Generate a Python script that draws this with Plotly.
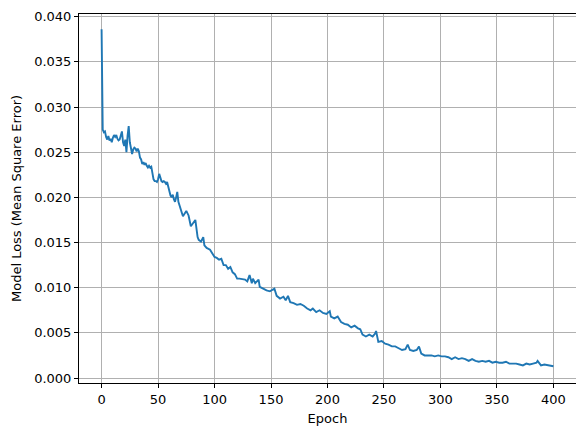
import plotly.graph_objects as go

# Valores (época, pérdida MSE)
epochs = [0, 1, 2, 3, 4, 5, 6, 7, 8, 9, 10, 11, 12, 13, 14, 15, 16, 17, 18, 19,
          20, 21, 22, 23, 24, 25, 26, 27, 28, 29, 30, 31, 32, 33, 34, 35, 36, 37, 38, 39,
          40, 41, 42, 43, 44, 45, 46, 47, 48, 49, 50, 51, 52, 53, 54, 55, 56, 57, 58, 59,
          60, 61, 62, 63, 64, 65, 66, 67, 68, 69, 70, 72, 75, 77, 79, 81, 83, 85, 86, 88,
          90, 91, 93, 96, 98, 100, 102, 104, 106, 108, 110, 112, 114, 116, 118, 120, 122, 125, 127, 129,
          130, 131, 133, 134, 136, 139, 140, 143, 146, 149, 153, 155, 158, 161, 163, 165, 167, 170, 173, 176,
          179, 182, 185, 187, 190, 193, 196, 199, 202, 203, 206, 209, 212, 215, 218, 221, 224, 227, 229, 231,
          234, 237, 240, 242, 243, 245, 248, 251, 254, 257, 260, 263, 266, 269, 271, 273, 276, 279, 281, 283,
          286, 289, 292, 295, 298, 301, 304, 307, 310, 313, 316, 319, 322, 325, 328, 331, 334, 337, 340, 343,
          346, 349, 352, 355, 358, 361, 364, 367, 370, 373, 376, 379, 382, 385, 386, 389, 392, 395, 398, 400]

loss = [0.0386, 0.0275, 0.0272, 0.0273, 0.0267, 0.0264, 0.0268, 0.0263, 0.0265, 0.0261,
        0.0266, 0.0269, 0.0267, 0.0269, 0.0265, 0.0263, 0.0264, 0.0268, 0.0273, 0.0261,
        0.0257, 0.0264, 0.0250, 0.0268, 0.0279, 0.0261, 0.0254, 0.0248, 0.0253, 0.0255,
        0.0254, 0.0251, 0.0254, 0.0251, 0.0244, 0.0242, 0.0237, 0.0239, 0.0236, 0.0238,
        0.0235, 0.0233, 0.0235, 0.0233, 0.0234, 0.0226, 0.0220, 0.0218, 0.0218, 0.0217,
        0.0220, 0.0226, 0.0220, 0.0218, 0.0217, 0.0218, 0.0217, 0.0215, 0.0217, 0.0211,
        0.0204, 0.0202, 0.0200, 0.0203, 0.0198, 0.0195, 0.0200, 0.0206, 0.0195, 0.0191,
        0.0189, 0.0179, 0.0185, 0.0180, 0.0168, 0.0171, 0.0175, 0.0156, 0.0153, 0.0151,
        0.0156, 0.0147, 0.0144, 0.0142, 0.0138, 0.0134, 0.0133, 0.0131, 0.0132, 0.0125,
        0.0125, 0.0121, 0.0123, 0.0117, 0.0115, 0.0110, 0.0110, 0.0109, 0.0109, 0.0107,
        0.0110, 0.0114, 0.0105, 0.0110, 0.0105, 0.0109, 0.0101, 0.0099, 0.0097, 0.0096,
        0.0099, 0.0091, 0.0088, 0.0090, 0.0086, 0.0091, 0.0084, 0.0083, 0.0081, 0.0082,
        0.0080, 0.0077, 0.0075, 0.0077, 0.0073, 0.0075, 0.0072, 0.0071, 0.0074, 0.0068,
        0.0066, 0.0068, 0.0062, 0.0060, 0.0059, 0.0056, 0.0058, 0.0055, 0.0054, 0.0048,
        0.0046, 0.0048, 0.0046, 0.0049, 0.0052, 0.0040, 0.0041, 0.0038, 0.0037, 0.0035,
        0.0035, 0.0033, 0.0031, 0.0032, 0.0037, 0.0031, 0.0030, 0.0031, 0.0035, 0.0027,
        0.0025, 0.0025, 0.0025, 0.0024, 0.0025, 0.0024, 0.0024, 0.0023, 0.0021, 0.0023,
        0.0021, 0.0022, 0.0021, 0.0019, 0.0021, 0.0019, 0.0018, 0.0019, 0.0018, 0.0019,
        0.0017, 0.0018, 0.0017, 0.0017, 0.0018, 0.0016, 0.0016, 0.0016, 0.0015, 0.0014,
        0.0016, 0.0015, 0.0016, 0.0017, 0.0019, 0.0014, 0.0015, 0.0014, 0.0013, 0.0013]

x_ticks = [0, 50, 100, 150, 200, 250, 300, 350, 400]
y_ticks = [0.000, 0.005, 0.010, 0.015, 0.020, 0.025, 0.030, 0.035, 0.040]

fig = go.Figure()
fig.add_trace(go.Scatter(x=epochs, y=loss, mode="lines",
                         line=dict(color="#1f77b4", width=1.9), showlegend=False))

axis_common = dict(
    showline=True, linecolor="black", linewidth=1, mirror=True,
    ticks="outside", ticklen=4, tickwidth=1, tickcolor="black",
    showgrid=True, gridcolor="#b0b0b0", gridwidth=1,
    zeroline=False, tickfont=dict(size=13, color="black"),
    automargin=False,
)

fig.update_xaxes(range=[-20, 420], tickvals=x_ticks,
                 title=dict(text="Epoch", font=dict(size=13, color="black"), standoff=8),
                 **axis_common)
fig.update_yaxes(range=[-0.00055, 0.0403], tickvals=y_ticks, tickformat=".3f",
                 title=dict(text="Model Loss (Mean Square Error)", font=dict(size=13, color="black"), standoff=9),
                 **axis_common)

# la página añade ~8 px de margen al cuerpo: se compensa aquí
fig.update_layout(
    width=584, height=435,
    template="none",
    font=dict(family="DejaVu Sans", color="black"),
    plot_bgcolor="white", paper_bgcolor="white",
    margin=dict(l=71, r=16, t=6, b=60),
)

fig.write_html("out.html")
